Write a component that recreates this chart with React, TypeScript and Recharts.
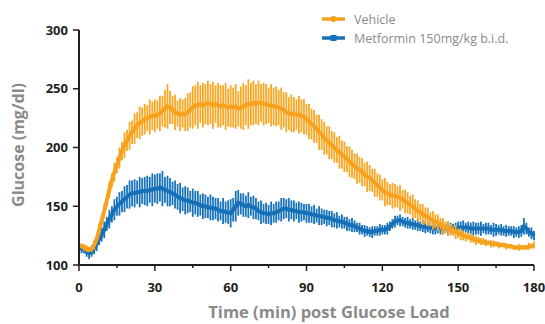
import React from 'react';
import { LineChart, Line, XAxis, YAxis, ErrorBar, Label } from 'recharts';

// one reading per minute, 0..180 min
const SAMPLE_STEP_MIN = 1;

const vehicleMean = [
  117, 116, 115, 114, 113, 114, 117, 122, 130, 138, 146,
  155, 164, 172, 179, 185, 191, 197, 202, 206, 210,
  213, 216, 219, 221, 222, 224, 225, 226, 227, 227,
  228, 229, 231, 233, 235, 234, 232, 230, 229, 228,
  229, 228, 230, 232, 234, 236, 236, 237, 236, 237,
  238, 237, 236, 237, 236, 235, 236, 235, 234, 235,
  234, 235, 233, 234, 235, 236, 237, 237, 238, 237,
  238, 238, 237, 237, 236, 236, 235, 235, 234, 233,
  232, 230, 229, 229, 228, 228, 228, 227, 226, 224,
  222, 220, 218, 216, 213, 211, 208, 206, 204, 202,
  200, 198, 196, 194, 192, 190, 188, 186, 184, 182,
  181, 179, 177, 175, 174, 172, 170, 168, 166, 164,
  162, 161, 160, 159, 159, 158, 157, 156, 154, 153,
  151, 150, 148, 146, 145, 143, 142, 141, 139, 138,
  137, 136, 135, 133, 132, 131, 130, 129, 128, 127,
  126, 125, 124, 124, 123, 122, 121, 121, 120, 120,
  119, 119, 118, 118, 118, 117, 117, 117, 116, 116,
  116, 115, 115, 115, 115, 115, 115, 116, 116, 117,
];

const vehicleSem = [
  3, 2, 3, 3, 2, 3, 4, 3, 5, 4, 6,
  5, 7, 6, 8, 7, 9, 8, 11, 9, 12,
  10, 13, 11, 14, 12, 13, 11, 15, 12, 14,
  12, 15, 13, 16, 19, 14, 12, 15, 11, 14,
  12, 14, 16, 15, 18, 17, 20, 16, 19, 17,
  19, 17, 20, 16, 19, 18, 17, 20, 16, 18,
  17, 19, 15, 18, 20, 17, 21, 18, 19, 17,
  19, 16, 18, 17, 15, 18, 16, 17, 15, 18,
  15, 17, 14, 16, 15, 13, 16, 14, 15, 13,
  15, 13, 14, 12, 15, 13, 14, 12, 14, 12,
  13, 11, 14, 12, 13, 11, 13, 12, 11, 13,
  11, 12, 10, 13, 11, 10, 12, 10, 11, 9,
  12, 10, 9, 11, 10, 9, 11, 8, 10, 9,
  8, 10, 8, 9, 7, 9, 7, 8, 6, 8,
  6, 7, 5, 7, 5, 6, 5, 4, 6, 4,
  5, 4, 4, 3, 4, 3, 4, 3, 3, 3,
  3, 2, 3, 3, 2, 3, 2, 2, 3, 2,
  2, 2, 2, 3, 2, 2, 2, 3, 2, 3,
];

const metforminMean = [
  115, 114, 113, 111, 110, 111, 114, 118, 122, 126, 130,
  135, 139, 143, 147, 150, 152, 154, 156, 158, 160,
  161, 161, 162, 162, 163, 163, 163, 164, 164, 165,
  165, 166, 165, 164, 163, 162, 161, 160, 158, 157,
  156, 155, 155, 154, 153, 153, 152, 151, 150, 150,
  149, 149, 148, 148, 147, 146, 146, 145, 145, 144,
  147, 150, 153, 152, 151, 150, 151, 150, 149, 148,
  146, 145, 144, 144, 143, 144, 144, 145, 146, 147,
  148, 148, 147, 147, 146, 146, 145, 145, 145, 144,
  144, 143, 143, 142, 142, 141, 141, 140, 140, 139,
  138, 138, 137, 137, 136, 135, 134, 134, 133, 132,
  131, 130, 129, 129, 128, 128, 129, 129, 130, 130,
  130, 131, 133, 135, 137, 138, 138, 137, 136, 136,
  135, 135, 134, 134, 133, 133, 132, 132, 132, 131,
  131, 131, 131, 131, 131, 131, 131, 131, 131, 132,
  132, 132, 132, 132, 131, 131, 131, 131, 131, 131,
  131, 131, 130, 130, 130, 130, 130, 129, 129, 129,
  129, 128, 128, 128, 129, 133, 131, 128, 127, 125,
];

const metforminSem = [
  3, 4, 3, 4, 5, 4, 5, 6, 5, 6, 7,
  6, 8, 7, 9, 8, 10, 9, 11, 10, 12,
  11, 12, 10, 13, 11, 12, 13, 11, 14, 12,
  13, 12, 15, 11, 13, 12, 10, 12, 11, 13,
  10, 12, 11, 9, 12, 10, 11, 9, 11, 10,
  9, 11, 10, 9, 10, 8, 11, 9, 10, 12,
  10, 13, 11, 9, 10, 9, 11, 8, 10, 9,
  8, 10, 8, 9, 8, 10, 8, 9, 8, 10,
  9, 8, 10, 8, 9, 7, 9, 8, 7, 8,
  8, 7, 8, 6, 8, 7, 6, 7, 6, 7,
  6, 7, 5, 6, 5, 6, 5, 6, 5, 4,
  5, 4, 5, 4, 4, 5, 4, 4, 5, 4,
  4, 5, 4, 4, 5, 4, 5, 4, 4, 5,
  4, 5, 4, 5, 4, 5, 5, 4, 5, 5,
  5, 4, 5, 5, 4, 6, 5, 4, 5, 5,
  5, 6, 4, 5, 5, 6, 5, 5, 6, 4,
  5, 5, 4, 6, 5, 4, 5, 4, 5, 4,
  4, 5, 4, 5, 5, 7, 5, 4, 5, 4,
];

const xTicks = [0, 15, 30, 45, 60, 75, 90, 105, 120, 135, 150, 165, 180];
const yTicks = [100, 150, 200, 250, 300];

const ORANGE = '#F7A11C';
const ORANGE_BAR = '#F8A826';
const BLUE = '#1570B8';
const BLUE_BAR = '#1A74BC';
const AXIS = '#231F20';
const LABEL_GRAY = '#8A8A8A';
const FONT = '"Open Sans", sans-serif';

const data = vehicleMean.map((v, i) => ({
  t: i * SAMPLE_STEP_MIN,
  vehicle: v,
  vehicleErr: vehicleSem[i],
  metformin: metforminMean[i],
  metforminErr: metforminSem[i],
}));

const XTick = (props: any) => {
  const { x, y, payload } = props;
  const major = payload.value % 30 === 0;
  return (
    <g>
      <line x1={x} x2={x} y1={y} y2={y + (major ? 6 : 3)} stroke={AXIS} strokeWidth={1.5} />
      {major && (
        <text x={x} y={y + 27} textAnchor="middle" fill={AXIS} fontSize={13} fontWeight={700} fontFamily={FONT}>
          {payload.value}
        </text>
      )}
    </g>
  );
};

const LegendBox = () => (
  <svg width={220} height={44} style={{ position: 'absolute', left: 320, top: 9 }}>
    <g>
      <line x1={2} x2={25} y1={10} y2={10} stroke={ORANGE} strokeWidth={3.5} />
      <circle cx={13.5} cy={10} r={3} fill={ORANGE} />
      <text x={34} y={14.5} fill={LABEL_GRAY} fontSize={12.5} fontFamily={FONT}>Vehicle</text>
    </g>
    <g>
      <line x1={2} x2={25} y1={29} y2={29} stroke={BLUE} strokeWidth={3.5} />
      <rect x={10.5} y={26} width={6} height={6} fill={BLUE} />
      <text x={34} y={33.5} fill={LABEL_GRAY} fontSize={12.5} fontFamily={FONT}>Metformin 150mg/kg b.i.d.</text>
    </g>
  </svg>
);

export default function App() {
  return (
    <div style={{ position: 'absolute', left: 0, top: 0, width: 545, height: 324, background: '#fff' }}>
      <LineChart width={545} height={324} data={data} margin={{ top: 30, right: 11, bottom: 29, left: 19 }}>
        <XAxis
          dataKey="t"
          type="number"
          domain={[0, 180]}
          ticks={xTicks}
          interval={0}
          tick={<XTick />}
          tickLine={false}
          tickSize={0}
          tickMargin={0}
          height={30}
          axisLine={{ stroke: AXIS, strokeWidth: 2 }}
        >
          <Label
            content={() => (
              <text x={329} y={318} textAnchor="middle" fill={LABEL_GRAY} fontSize={16.5} fontWeight={700} fontFamily={FONT}>
                Time (min) post Glucose Load
              </text>
            )}
          />
        </XAxis>
        <YAxis
          type="number"
          domain={[100, 300]}
          ticks={yTicks}
          interval={0}
          width={60}
          tickSize={6}
          tickMargin={5}
          tick={{ fill: AXIS, fontSize: 13, fontWeight: 700, fontFamily: FONT }}
          tickLine={{ stroke: AXIS, strokeWidth: 1.5 }}
          axisLine={{ stroke: AXIS, strokeWidth: 2 }}
        >
          <Label
            content={() => (
              <text
                x={24}
                y={145}
                transform="rotate(-90, 24, 145)"
                textAnchor="middle"
                fill={LABEL_GRAY}
                fontSize={16}
                fontWeight={700}
                fontFamily={FONT}
              >
                Glucose (mg/dl)
              </text>
            )}
          />
        </YAxis>
        <Line
          dataKey="metformin"
          stroke={BLUE}
          strokeWidth={4}
          dot={false}
          isAnimationActive={false}
        >
          <ErrorBar dataKey="metforminErr" width={0} stroke={BLUE_BAR} strokeWidth={1.8} direction="y" isAnimationActive={false} />
        </Line>
        <Line
          dataKey="vehicle"
          stroke={ORANGE}
          strokeWidth={4}
          dot={false}
          isAnimationActive={false}
        >
          <ErrorBar dataKey="vehicleErr" width={0} stroke={ORANGE_BAR} strokeWidth={1.8} direction="y" isAnimationActive={false} />
        </Line>
      </LineChart>
      <LegendBox />
    </div>
  );
}
